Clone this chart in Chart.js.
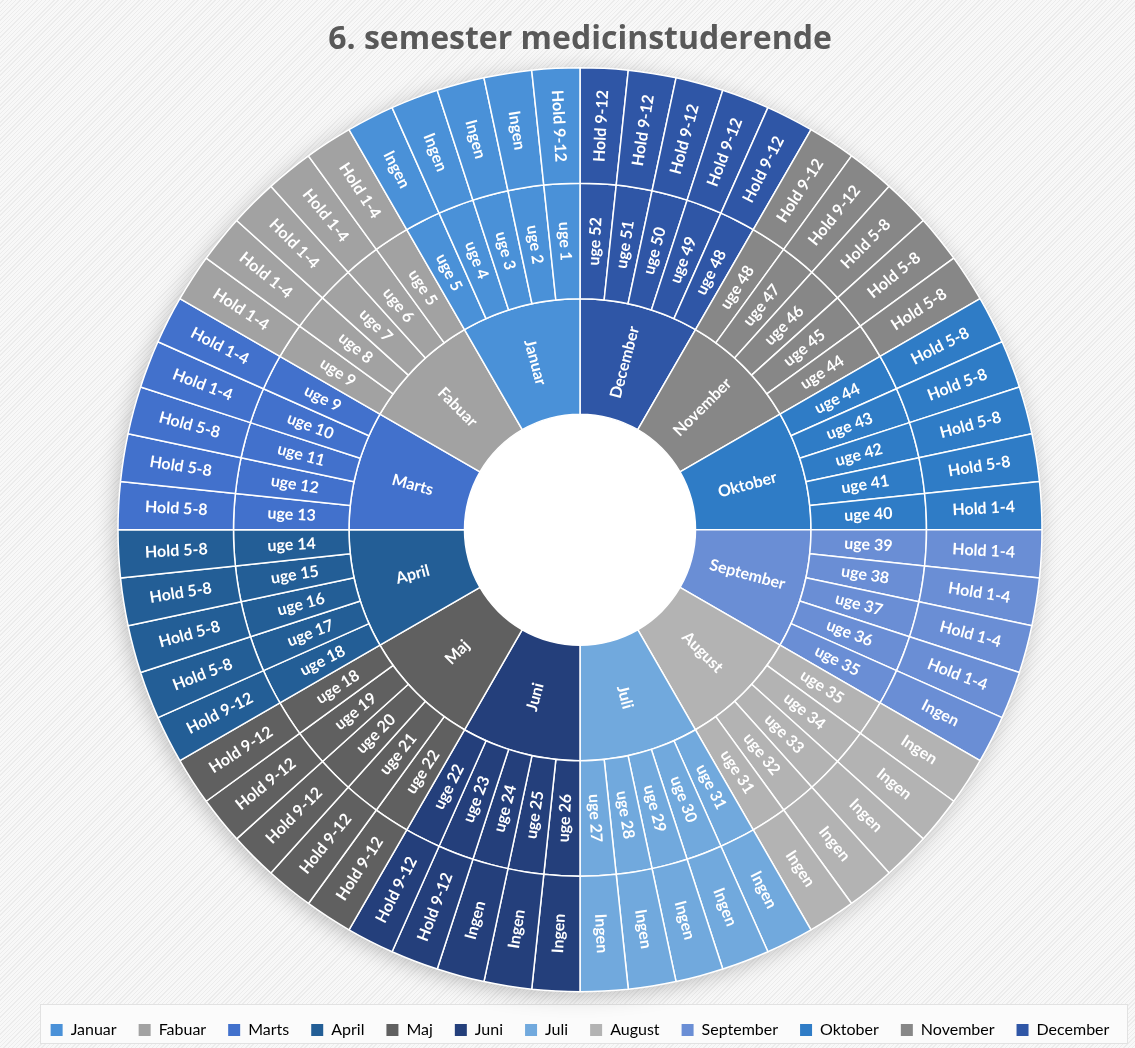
<!DOCTYPE html>
<html><head><meta charset="utf-8">
<script src="https://cdn.jsdelivr.net/npm/chart.js@4"></script>
<style>
html,body{margin:0;padding:0;}
body{width:1135px;height:1048px;background:#f2f2f2 repeating-linear-gradient(135deg,#f8f8f8 0px,#f8f8f8 2px,#ececec 2px,#ececec 3px);position:relative;overflow:hidden;}
#legendbox{position:absolute;left:40px;top:1004px;width:1088px;height:40px;background:#fbfbfb;border:1px solid #e2e2e2;box-sizing:border-box;}
#wrap{position:absolute;left:0;top:0;width:1135px;height:1048px;}
</style></head><body>
<div id="legendbox"></div>
<div id="wrap"><canvas id="c" width="1135" height="1048"></canvas></div>
<script>
const titleText = '6. semester medicinstuderende';
const months = ['Januar','Fabuar','Marts','April','Maj','Juni','Juli','August','September','Oktober','November','December'];
const monthColors = ['#4A91D8','#A2A2A2','#4271CC','#235E96','#606060','#243F7B','#71A9DD','#B3B3B3','#6A8ED5','#2F7CC6','#878787','#2F56A6'];
const weeks = [
  [1,2,3,4,5],
  [5,6,7,8,9],
  [9,10,11,12,13],
  [14,15,16,17,18],
  [18,19,20,21,22],
  [22,23,24,25,26],
  [27,28,29,30,31],
  [31,32,33,34,35],
  [35,36,37,38,39],
  [40,41,42,43,44],
  [44,45,46,47,48],
  [48,49,50,51,52]
];
const holds = [
  ['Hold 9-12','Ingen','Ingen','Ingen','Ingen'],
  ['Hold 1-4','Hold 1-4','Hold 1-4','Hold 1-4','Hold 1-4'],
  ['Hold 1-4','Hold 1-4','Hold 5-8','Hold 5-8','Hold 5-8'],
  ['Hold 5-8','Hold 5-8','Hold 5-8','Hold 5-8','Hold 9-12'],
  ['Hold 9-12','Hold 9-12','Hold 9-12','Hold 9-12','Hold 9-12'],
  ['Hold 9-12','Hold 9-12','Ingen','Ingen','Ingen'],
  ['Ingen','Ingen','Ingen','Ingen','Ingen'],
  ['Ingen','Ingen','Ingen','Ingen','Ingen'],
  ['Ingen','Hold 1-4','Hold 1-4','Hold 1-4','Hold 1-4'],
  ['Hold 1-4','Hold 5-8','Hold 5-8','Hold 5-8','Hold 5-8'],
  ['Hold 5-8','Hold 5-8','Hold 5-8','Hold 9-12','Hold 9-12'],
  ['Hold 9-12','Hold 9-12','Hold 9-12','Hold 9-12','Hold 9-12']
];
const weekSize = 1; // each week is one equal slice

// The sunburst runs counter-clockwise from 12 o'clock; Chart.js draws clockwise, so reverse.
const mOrder = months.map((m,i)=>i).reverse();
const monthData=[], monthBg=[], monthLbl=[];
const weekData=[], weekBg=[], weekLbl=[];
const holdData=[], holdBg=[], holdLbl=[];
mOrder.forEach(mi=>{
  monthData.push(weeks[mi].length*weekSize); monthBg.push(monthColors[mi]); monthLbl.push(months[mi]);
  for(let k=weeks[mi].length-1;k>=0;k--){
    weekData.push(weekSize); weekBg.push(monthColors[mi]); weekLbl.push('uge '+weeks[mi][k]);
    holdData.push(weekSize); holdBg.push(monthColors[mi]); holdLbl.push(holds[mi][k]);
  }
});

const shadowPlugin = {
  id:'ringShadow',
  beforeDatasetsDraw(chart){
    const arc = chart.getDatasetMeta(0).data[0]; if(!arc) return;
    const p = arc.getProps(['x','y','outerRadius'], true);
    const inner = chart.getDatasetMeta(2).data[0].getProps(['innerRadius'], true).innerRadius;
    const ctx = chart.ctx; ctx.save();
    ctx.shadowColor='rgba(0,0,0,0.25)'; ctx.shadowBlur=22; ctx.shadowOffsetX=-3; ctx.shadowOffsetY=4;
    ctx.fillStyle='#d8d8d8'; ctx.beginPath(); ctx.arc(p.x,p.y,p.outerRadius-1,0,Math.PI*2); ctx.fill();
    ctx.restore();
    ctx.save();
    ctx.fillStyle='#ffffff'; ctx.beginPath(); ctx.arc(p.x,p.y,inner+1,0,Math.PI*2); ctx.fill();
    ctx.restore();
  }
};
const labelPlugin = {
  id:'sliceLabels',
  afterDatasetsDraw(chart){
    const ctx = chart.ctx;
    chart.data.datasets.forEach((ds,di)=>{
      const meta = chart.getDatasetMeta(di);
      meta.data.forEach((arc,i)=>{
        const p = arc.getProps(['x','y','startAngle','endAngle','innerRadius','outerRadius'], true);
        const a = (p.startAngle+p.endAngle)/2;
        const r = (p.innerRadius+p.outerRadius)/2;
        ctx.save();
        ctx.translate(p.x+Math.cos(a)*r, p.y+Math.sin(a)*r);
        ctx.rotate(Math.cos(a)<0 ? a+Math.PI : a);
        ctx.fillStyle='#ffffff';
        ctx.font='bold 16px Lato';
        ctx.textAlign='center'; ctx.textBaseline='middle';
        ctx.fillText(ds.segLabels[i],0,0);
        ctx.restore();
      });
    });
  }
};

new Chart(document.getElementById('c'), {
  type:'doughnut',
  data:{
    labels: holdLbl,
    datasets:[
      {data:holdData, backgroundColor:holdBg, segLabels:holdLbl, borderColor:'#ffffff', borderWidth:1.5},
      {data:weekData, backgroundColor:weekBg, segLabels:weekLbl, borderColor:'#ffffff', borderWidth:1.5},
      {data:monthData, backgroundColor:monthBg, segLabels:monthLbl, borderColor:'#ffffff', borderWidth:1.5}
    ]
  },
  options:{
    responsive:false,
    animation:false,
    radius:462,
    cutout:'25%',
    layout:{padding:{left:25,right:0,top:0,bottom:0}},
    plugins:{
      tooltip:{enabled:false},
      title:{display:true,text:titleText,color:'#595959',font:{family:'Open Sans',size:32,weight:'bold'},padding:{top:21,bottom:0}},
      legend:{
        position:'bottom',
        onClick:null,
        labels:{
          font:{family:'Lato',size:16},
          color:'#595959',
          boxWidth:12, boxHeight:12, padding:22,
          generateLabels(){
            return months.map((m,i)=>({text:m, fillStyle:monthColors[i], strokeStyle:monthColors[i], lineWidth:0, hidden:false, index:i}));
          }
        }
      }
    }
  },
  plugins:[shadowPlugin, labelPlugin]
});
</script>
</body></html>
